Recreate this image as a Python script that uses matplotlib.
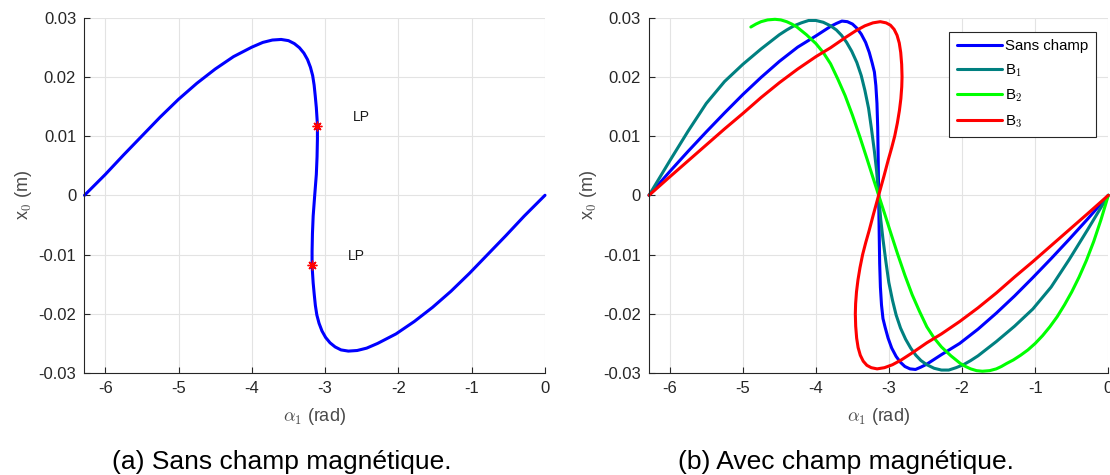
import numpy as np
import matplotlib
matplotlib.use("Agg")
import matplotlib.pyplot as plt

plt.rcParams['font.family'] = ['Liberation Sans', 'DejaVu Sans']
plt.rcParams['mathtext.fontset'] = 'cm'

# ---- (a) sans champ magnetique : (alpha_1, x_0) ----
alpha_a = [-6.283, -6.0, -5.75, -5.5, -5.25, -5.0, -4.75, -4.5, -4.25, -4.0,
           -3.85, -3.72, -3.60, -3.50, -3.42, -3.35, -3.29, -3.24, -3.20, -3.17,
           -3.15, -3.135, -3.12, -3.108, -3.105, -3.105, -3.11, -3.12, -3.142,
           -3.163, -3.173, -3.178, -3.178, -3.175, -3.163, -3.148, -3.133, -3.113,
           -3.083, -3.043, -2.993, -2.933, -2.863, -2.783, -2.683, -2.563, -2.433,
           -2.283, -2.033, -1.783, -1.533, -1.283, -1.033, -0.783, -0.533, -0.283, 0.0]
x0_a = [0.0, 0.0035, 0.0068, 0.0100, 0.0132, 0.0162, 0.0189, 0.0213, 0.0234, 0.0250,
        0.0258, 0.0262, 0.0263, 0.0261, 0.0256, 0.0249, 0.0240, 0.0229, 0.0216, 0.0202,
        0.0186, 0.0168, 0.0148, 0.0125, 0.0117, 0.0095, 0.0065, 0.0035, 0.0,
        -0.0035, -0.0065, -0.0095, -0.0117, -0.0125, -0.0148, -0.0168, -0.0186, -0.0202,
        -0.0216, -0.0229, -0.0240, -0.0249, -0.0256, -0.0261, -0.0263, -0.0262, -0.0258,
        -0.0250, -0.0234, -0.0213, -0.0189, -0.0162, -0.0132, -0.0100, -0.0068, -0.0035, 0.0]
lp_alpha = [-3.105, -3.178]
lp_x0 = [0.0117, -0.0117]
lp_text_alpha = [-2.627, -2.696]
lp_text_x0 = [0.0132, -0.0102]

# ---- (b) avec champ magnetique ----
alpha_sans = [-6.283, -6.0, -5.75, -5.5, -5.25, -5.0, -4.75, -4.5, -4.25, -4.0,
              -3.9, -3.8, -3.72, -3.645, -3.57, -3.50, -3.44, -3.38, -3.32, -3.27,
              -3.23, -3.20, -3.18, -3.165, -3.155, -3.148, -3.142,
              -3.135, -3.128, -3.118, -3.103, -3.083, -3.053, -3.013, -2.963, -2.903,
              -2.843, -2.783, -2.713, -2.638, -2.563, -2.483, -2.383, -2.283, -2.033,
              -1.783, -1.533, -1.283, -1.033, -0.783, -0.533, -0.283, 0.0]
x0_sans = [0.0, 0.0040, 0.0074, 0.0107, 0.0139, 0.0170, 0.0199, 0.0226, 0.0250, 0.0269,
           0.0277, 0.0285, 0.0290, 0.0294, 0.0293, 0.0289, 0.0282, 0.0272, 0.0258, 0.0241,
           0.0223, 0.0208, 0.0185, 0.0155, 0.0115, 0.0060, 0.0,
           -0.0060, -0.0115, -0.0155, -0.0185, -0.0208, -0.0223, -0.0241, -0.0258, -0.0272,
           -0.0282, -0.0289, -0.0293, -0.0294, -0.0290, -0.0285, -0.0277, -0.0269, -0.0250,
           -0.0226, -0.0199, -0.0170, -0.0139, -0.0107, -0.0074, -0.0040, 0.0]

alpha_b1 = [-6.283, -6.0, -5.75, -5.5, -5.25, -5.0, -4.75, -4.5, -4.4, -4.3,
            -4.2, -4.1, -4.0, -3.9, -3.8, -3.72, -3.65, -3.58, -3.51, -3.44,
            -3.38, -3.33, -3.28, -3.24, -3.20, -3.17, -3.142,
            -3.113, -3.083, -3.043, -3.003, -2.953, -2.903, -2.843, -2.773, -2.703,
            -2.633, -2.563, -2.483, -2.383, -2.283, -2.183, -2.083, -1.983, -1.883,
            -1.783, -1.533, -1.283, -1.033, -0.783, -0.533, -0.283, 0.0]
x0_b1 = [0.0, 0.0058, 0.0108, 0.0155, 0.0192, 0.0221, 0.0247, 0.0271, 0.0279, 0.0286,
         0.0291, 0.0295, 0.0295, 0.0292, 0.0286, 0.0279, 0.0270, 0.0258, 0.0243, 0.0224,
         0.0202, 0.0177, 0.0147, 0.0112, 0.0074, 0.0041, 0.0,
         -0.0041, -0.0074, -0.0112, -0.0147, -0.0177, -0.0202, -0.0224, -0.0243, -0.0258,
         -0.0270, -0.0279, -0.0286, -0.0292, -0.0295, -0.0295, -0.0291, -0.0286, -0.0279,
         -0.0271, -0.0247, -0.0221, -0.0192, -0.0155, -0.0108, -0.0058, 0.0]

alpha_b2 = [-4.89, -4.82, -4.75, -4.66, -4.56, -4.48, -4.40, -4.33, -4.26, -4.13,
            -4.0, -3.90, -3.80, -3.70, -3.60, -3.50, -3.40, -3.30, -3.22, -3.142,
            -3.063, -2.983, -2.883, -2.783, -2.683, -2.583, -2.483, -2.383, -2.283,
            -2.153, -2.023, -1.953, -1.883, -1.803, -1.723, -1.623, -1.533, -1.463,
            -1.393, -1.3, -1.2, -1.1, -1.0, -0.9, -0.8, -0.7, -0.6, -0.5, -0.4, -0.3,
            -0.2, -0.1, 0.0]
x0_b2 = [0.0284, 0.0289, 0.0293, 0.0296, 0.0297, 0.0296, 0.0293, 0.0289, 0.0284, 0.0271,
         0.0256, 0.0241, 0.0222, 0.0196, 0.0168, 0.0135, 0.0099, 0.0061, 0.0030, 0.0,
         -0.0030, -0.0061, -0.0099, -0.0135, -0.0168, -0.0196, -0.0222, -0.0241, -0.0256,
         -0.0271, -0.0284, -0.0289, -0.0293, -0.0296, -0.0297, -0.0296, -0.0293, -0.0289,
         -0.0284, -0.0278, -0.0270, -0.0261, -0.0250, -0.0237, -0.0222, -0.0205, -0.0185,
         -0.0163, -0.0138, -0.0110, -0.0078, -0.0041, 0.0]

alpha_b3 = [-6.283, -6.0, -5.75, -5.5, -5.25, -5.0, -4.75, -4.5, -4.25, -4.0,
            -3.8, -3.6, -3.45, -3.33, -3.22, -3.12, -3.04, -2.98, -2.93, -2.89,
            -2.86, -2.84, -2.827, -2.822, -2.826, -2.838, -2.858, -2.886, -2.922,
            -2.964, -3.01, -3.07, -3.142,
            -3.213, -3.273, -3.319, -3.361, -3.397, -3.425, -3.445, -3.457, -3.461,
            -3.456, -3.443, -3.423, -3.393, -3.353, -3.303, -3.243, -3.163, -3.063,
            -2.953, -2.833, -2.683, -2.483, -2.283, -2.033, -1.783, -1.533, -1.283,
            -1.033, -0.783, -0.533, -0.283, 0.0]
x0_b3 = [0.0, 0.0031, 0.0058, 0.0085, 0.0112, 0.0138, 0.0165, 0.0190, 0.0213, 0.0234,
         0.0249, 0.0266, 0.0278, 0.0286, 0.0291, 0.0293, 0.0291, 0.0287, 0.0280, 0.0270,
         0.0257, 0.0241, 0.0221, 0.0200, 0.0183, 0.0163, 0.0143, 0.0122, 0.0100,
         0.0080, 0.0060, 0.0032, 0.0,
         -0.0032, -0.0060, -0.0080, -0.0100, -0.0122, -0.0143, -0.0163, -0.0183, -0.0200,
         -0.0221, -0.0241, -0.0257, -0.0270, -0.0280, -0.0287, -0.0291, -0.0293, -0.0291,
         -0.0286, -0.0278, -0.0266, -0.0249, -0.0234, -0.0213, -0.0190, -0.0165, -0.0138,
         -0.0112, -0.0085, -0.0058, -0.0031, 0.0]

series_b = [
    (alpha_sans, x0_sans, '#0000ff', 'Sans champ'),
    (alpha_b1, x0_b1, '#008080', r'B$_\mathsf{1}$'),
    (alpha_b2, x0_b2, '#00ff00', r'B$_\mathsf{2}$'),
    (alpha_b3, x0_b3, '#ff0000', r'B$_\mathsf{3}$'),
]

xticks = [-6, -5, -4, -3, -2, -1, 0]
yticks = [-0.03, -0.02, -0.01, 0, 0.01, 0.02, 0.03]
ytick_labels = ['-0.03', '-0.02', '-0.01', '0', '0.01', '0.02', '0.03']

txt = '#262626'
lab = '#4a4a4a'


def style(ax):
    ax.set_xlim(-2 * np.pi, 0)
    ax.set_ylim(-0.03, 0.03)
    ax.set_xticks(xticks)
    ax.set_xticklabels([str(t) for t in xticks])
    ax.set_yticks(yticks)
    ax.set_yticklabels(ytick_labels)
    ax.grid(True, color='#e3e3e3', linewidth=0.8)
    ax.set_axisbelow(True)
    for s in ['top', 'right']:
        ax.spines[s].set_visible(False)
    for s in ['left', 'bottom']:
        ax.spines[s].set_color(txt)
        ax.spines[s].set_linewidth(0.8)
    ax.tick_params(direction='in', length=4, width=0.8, colors=txt,
                   labelsize=12, pad=6)
    ax.set_xlabel(r'$\alpha_{\mathsf{1}}$ (rad)', fontsize=13, color=lab, labelpad=7)
    ax.set_ylabel(r'x$_\mathsf{0}$ (m)', fontsize=13, color=lab, labelpad=3)


fig = plt.figure(figsize=(11.1, 4.75), dpi=100)
ax1 = fig.add_axes([0.0761, 0.2147, 0.4149, 0.7484])
ax2 = fig.add_axes([0.5847, 0.2147, 0.4138, 0.7484])

ax1.plot(alpha_a, x0_a, color='#0000ff', lw=2.2, solid_joinstyle='round',
         solid_capstyle='round', clip_on=False)
ax1.plot(lp_alpha, lp_x0, linestyle='none', marker=(8, 2, 0), markersize=7,
         color='#ff0000', markeredgewidth=1.0)
for a, x in zip(lp_text_alpha, lp_text_x0):
    ax1.text(a, x, 'LP', fontsize=10, color='#1a1a1a', ha='left', va='center')
style(ax1)

for a, x, c, name in series_b:
    ax2.plot(a, x, color=c, lw=2.2, label=name, solid_joinstyle='round',
             solid_capstyle='round', clip_on=False)
style(ax2)
leg = ax2.legend(loc='upper right', bbox_to_anchor=(0.9726, 0.9606), borderaxespad=0,
                 fontsize=10.8, handlelength=3.0, handletextpad=0.2, labelspacing=0.6,
                 fancybox=False, framealpha=1, edgecolor='#262626', borderpad=0.5)
leg.get_frame().set_linewidth(0.8)

fig.text(282 / 1110, 6 / 475, '(a) Sans champ magnétique.', fontsize=19,
         ha='center', va='baseline', color='black')
fig.text(846 / 1110, 6 / 475, '(b) Avec champ magnétique.', fontsize=19,
         ha='center', va='baseline', color='black')

fig.savefig('out.png', dpi=100)
